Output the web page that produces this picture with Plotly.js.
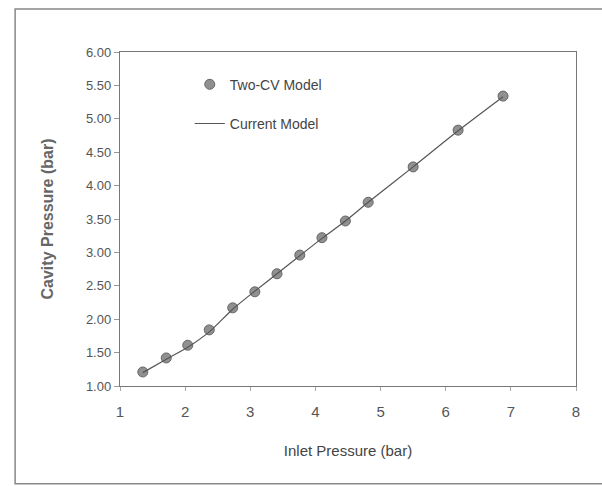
<!DOCTYPE html>
<html>
<head>
<meta charset="utf-8">
<script src="https://cdn.plot.ly/plotly-3.0.1.min.js"></script>
<style>html,body{margin:0;padding:0;background:#fff;}#chart{width:602px;height:486px;}</style>
</head>
<body>
<div id="chart"></div>
<script>
var inletPressure = [1.35, 1.71, 2.04, 2.37, 2.73, 3.07, 3.41, 3.76, 4.10, 4.46, 4.81, 5.50, 6.19, 6.88];
var twoCvModel   = [1.21, 1.42, 1.61, 1.84, 2.17, 2.41, 2.68, 2.96, 3.22, 3.47, 3.75, 4.28, 4.83, 5.34];
var currentModel = [1.20, 1.40, 1.58, 1.81, 2.15, 2.42, 2.68, 2.95, 3.21, 3.47, 3.75, 4.28, 4.82, 5.33];
var seriesNames = ['Two-CV Model', 'Current Model'];
var xTickVals = [1, 2, 3, 4, 5, 6, 7, 8];
var yTickVals = [1, 1.5, 2, 2.5, 3, 3.5, 4, 4.5, 5, 5.5, 6];

var font = "'Liberation Sans', Arial, sans-serif";
var traces = [
  {x: inletPressure, y: twoCvModel, name: seriesNames[0], mode: 'markers', type: 'scatter',
   legendgroup: 'a',
   marker: {symbol: 'circle', size: 10, color: '#909090', line: {color: '#666666', width: 1}}},
  {x: inletPressure, y: currentModel, name: seriesNames[1], mode: 'lines', type: 'scatter',
   legendgroup: 'b', line: {color: '#555555', width: 1.2, shape: 'spline', smoothing: 0.6}}
];
var layout = {
  width: 602, height: 486,
  margin: {l: 120, r: 26, t: 52, b: 100},
  paper_bgcolor: '#ffffff', plot_bgcolor: '#ffffff',
  font: {family: font, color: '#444'},
  showlegend: true,
  legend: {x: 0.153, y: 0.95, xanchor: 'left', yanchor: 'top', bgcolor: 'rgba(0,0,0,0)',
    traceorder: 'grouped', tracegroupgap: 18,
    font: {family: font, size: 14, color: '#444'}},
  xaxis: {range: [1, 8], tickvals: xTickVals, showgrid: false, zeroline: false,
    showline: true, mirror: true, linecolor: '#777', linewidth: 1.2,
    ticks: 'outside', ticklen: 4, tickcolor: '#aaa', ticklabelstandoff: 8,
    tickfont: {family: font, size: 15, color: '#555'},
    title: {text: 'Inlet Pressure (bar)', font: {family: font, size: 15, color: '#444'}, standoff: 26}},
  yaxis: {range: [1, 6], tickvals: yTickVals, tickformat: '.2f', showgrid: false, zeroline: false,
    showline: true, mirror: true, linecolor: '#777', linewidth: 1.2,
    ticks: 'outside', ticklen: 5, tickcolor: '#999',
    tickfont: {family: font, size: 13, color: '#555'},
    title: {text: '<b>Cavity Pressure (bar)</b>', font: {family: font, size: 16, color: '#666'}, standoff: 28}},
  shapes: [{type: 'rect', xref: 'paper', yref: 'paper', x0: -0.230, x1: 1.06, y0: -0.293, y1: 1.129,
    line: {color: '#888', width: 1.5}, fillcolor: 'rgba(0,0,0,0)'}]
};
Plotly.newPlot('chart', traces, layout, {displayModeBar: false, staticPlot: true});
</script>
</body>
</html>
